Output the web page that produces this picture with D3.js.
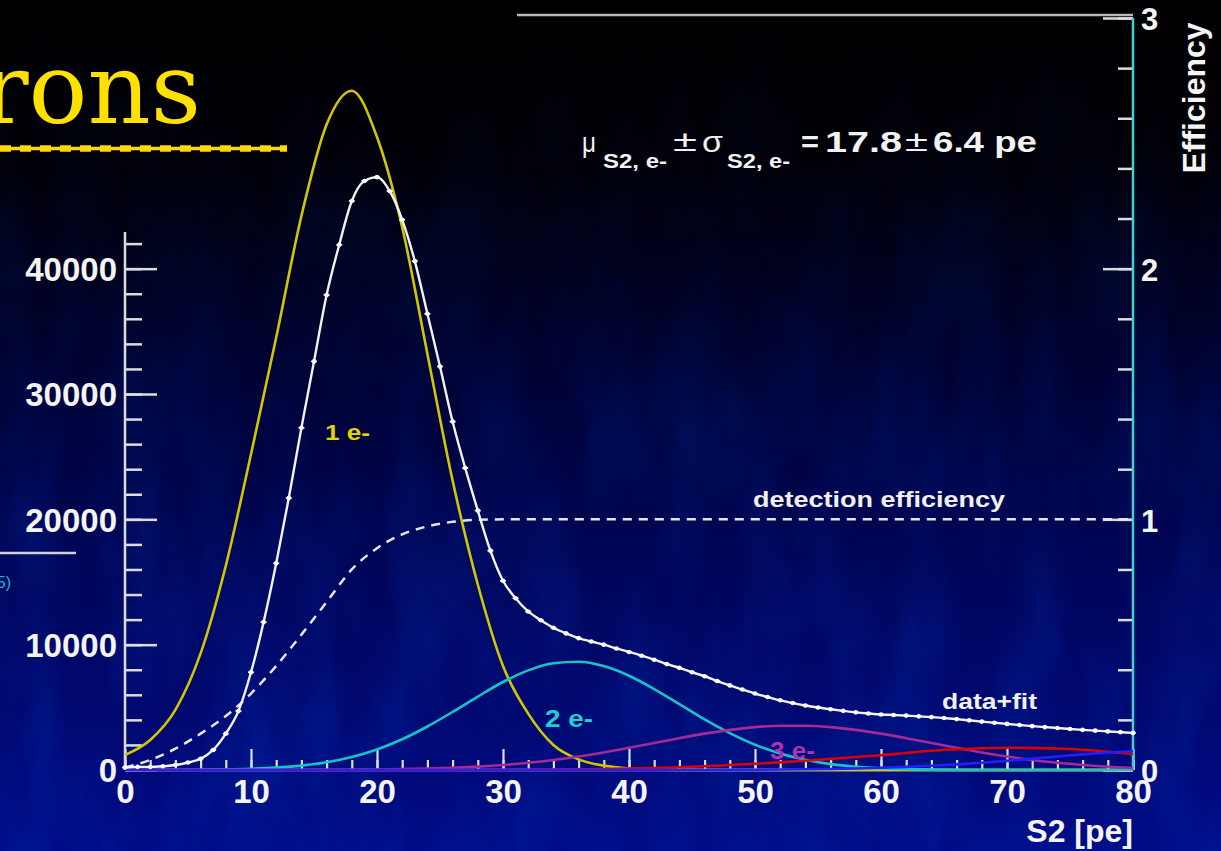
<!DOCTYPE html>
<html>
<head>
<meta charset="utf-8">
<script src="https://cdn.jsdelivr.net/npm/d3@7"></script>
<style>
  html, body { margin: 0; padding: 0; background: #000; }
  svg { display: block; }
  text { font-family: "Liberation Sans", Arial, Helvetica, sans-serif; }
</style>
</head>
<body>
<svg id="chart" width="1221" height="851"></svg>
<script>
// ---- S2 spectrum of single electrons: data, fit components and efficiency ----

// S2 bins (pe) for the histogram, one per pe
const dataPe = d3.range(0, 81, 1);
// measured counts per bin (data+fit)
const dataCounts = [
  200, 250, 250, 300, 400, 600, 900, 1600, 2900, 4700,
  7800, 11800, 16500, 21700, 27300, 32600, 37900, 41900, 45400, 47000,
  47300, 46200, 43900, 40600, 36400, 32200, 27800, 24100, 20700, 17500,
  15100, 13700, 12650, 11950, 11350, 10900, 10520, 10250, 10000, 9700,
  9420, 9120, 8800, 8450, 8150, 7800, 7480, 7100, 6750, 6420,
  6100, 5820, 5560, 5340, 5150, 4990, 4850, 4720, 4600, 4510,
  4430, 4390, 4340, 4280, 4220, 4150, 4060, 3960, 3860, 3770,
  3680, 3590, 3500, 3420, 3350, 3270, 3200, 3140, 3080, 3020, 2960
];

// fit components sampled every 2 pe
const compPe = d3.range(0, 81, 2);
const oneElectron = [
  1200, 2400, 4800, 9300, 16300, 25200, 34500, 44200, 51500, 54200,
  50500, 43300, 33200, 23100, 14800, 8300, 4500, 2000, 850, 350,
  120, 40, 10, 0, 0, 0, 0, 0, 0, 0,
  0, 0, 0, 0, 0, 0, 0, 0, 0, 0, 0
];
const twoElectrons = [
  0, 0, 10, 25, 50, 100, 190, 350, 620, 1040,
  1640, 2450, 3470, 4630, 5860, 7020, 7950, 8520, 8640, 8290,
  7520, 6460, 5250, 4030, 2940, 2020, 1320, 810, 470, 260,
  140, 70, 30, 10, 0, 0, 0, 0, 0, 0, 0
];
const threeElectrons = [
  0, 0, 0, 0, 0, 0, 0, 5, 10, 20,
  40, 67, 110, 175, 270, 400, 575, 800, 1080, 1400,
  1770, 2150, 2540, 2900, 3200, 3420, 3535, 3535, 3420, 3200,
  2900, 2540, 2150, 1770, 1400, 1080, 800, 575, 400, 260, 150
];
const fourElectrons = [
  0, 0, 0, 0, 0, 0, 0, 0, 0, 0,
  0, 0, 0, 0, 0, 15, 25, 35, 55, 80,
  115, 160, 220, 300, 400, 500, 610, 740, 890, 1040,
  1180, 1360, 1530, 1650, 1740, 1775, 1765, 1710, 1610, 1460, 1280
];
const fiveElectrons = [
  0, 0, 0, 0, 0, 0, 0, 0, 0, 0,
  0, 0, 0, 0, 0, 0, 0, 0, 0, 0,
  0, 0, 0, 0, 10, 20, 35, 55, 80, 120,
  175, 250, 340, 450, 580, 730, 900, 1080, 1250, 1400, 1520
];
// detection efficiency (right axis)
const efficiency = [
  0.01, 0.04, 0.085, 0.145, 0.215, 0.305, 0.415, 0.54, 0.67, 0.80,
  0.885, 0.94, 0.972, 0.99, 0.998, 1, 1, 1, 1, 1,
  1, 1, 1, 1, 1, 1, 1, 1, 1, 1,
  1, 1, 1, 1, 1, 1, 1, 1, 1, 1, 1
];

// axis ticks
const xMajorTicks = [0, 10, 20, 30, 40, 50, 60, 70, 80];
const yMajorTicks = [0, 10000, 20000, 30000, 40000];
const effMajorTicks = [0, 1, 2, 3];

// ---- layout ----
const svg = d3.select("#chart");
const W = 1221, H = 851;

const x = d3.scaleLinear().domain([0, 80]).range([125, 1133]);
const y = d3.scaleLinear().domain([0, 60000]).range([770, 18]);
const yEff = d3.scaleLinear().domain([0, 3]).range([770, 18]);

// ---- background: dark slide gradient with a faint streaky texture ----
const defs = svg.append("defs");
const bg = defs.append("linearGradient").attr("id", "bg")
  .attr("x1", 0).attr("y1", 0).attr("x2", 0).attr("y2", 1);
[["0", "#000000"], ["0.2", "#000008"], ["0.45", "#000235"],
 ["0.7", "#00065e"], ["1", "#000b86"]].forEach(([o, c]) =>
  bg.append("stop").attr("offset", o).attr("stop-color", c));

const tex = defs.append("filter").attr("id", "tex")
  .attr("x", 0).attr("y", 0).attr("width", 1).attr("height", 1);
tex.append("feTurbulence").attr("type", "fractalNoise")
  .attr("baseFrequency", "0.018 0.006").attr("numOctaves", 3).attr("seed", 7);
tex.append("feColorMatrix").attr("type", "matrix")
  .attr("values", "0 0 0 0 0  0 0 0 0 0.05  0 0 0 0 0.6  0 0 0 0.9 -0.3");

svg.append("rect").attr("width", W).attr("height", H).attr("fill", "url(#bg)");
const texMask = defs.append("linearGradient").attr("id", "texFade")
  .attr("x1", 0).attr("y1", 0).attr("x2", 0).attr("y2", 1);
texMask.append("stop").attr("offset", "0").attr("stop-color", "#fff").attr("stop-opacity", 0);
texMask.append("stop").attr("offset", "0.5").attr("stop-color", "#fff").attr("stop-opacity", 0.6);
texMask.append("stop").attr("offset", "1").attr("stop-color", "#fff").attr("stop-opacity", 1);
defs.append("mask").attr("id", "fadeMask")
  .append("rect").attr("width", W).attr("height", H).attr("fill", "url(#texFade)");
svg.append("rect").attr("width", W).attr("height", H)
  .attr("filter", "url(#tex)").attr("mask", "url(#fadeMask)").attr("opacity", 0.55);

// ---- slide title fragment ----
svg.append("text")
  .attr("x", 201).attr("y", 123)
  .attr("text-anchor", "end")
  .style("font-family", "'DejaVu Serif', 'Liberation Serif', serif")
  .style("font-size", "98px")
  .attr("fill", "#ffe100")
  .text("rons");
svg.append("line").attr("x1", 0).attr("x2", 287).attr("y1", 148.5).attr("y2", 148.5)
  .attr("stroke", "#ffd800").attr("stroke-width", 3.5);
svg.append("line").attr("x1", 0).attr("x2", 287).attr("y1", 148.5).attr("y2", 148.5)
  .attr("stroke", "#ffd800").attr("stroke-width", 6.5).attr("stroke-dasharray", "11 9");

// legend fragment at the left edge
svg.append("line").attr("x1", 0).attr("x2", 76).attr("y1", 553).attr("y2", 553)
  .attr("stroke", "#d0d0d0").attr("stroke-width", 2.5);
svg.append("text").attr("x", 11).attr("y", 588).attr("text-anchor", "end")
  .style("font-size", "16px").attr("fill", "#19b7c8").text("5)");

// ---- axes ----
const axisColor = "#dcdcdc";

// top frame segment
svg.append("line").attr("x1", 517).attr("x2", 1133).attr("y1", 15).attr("y2", 15)
  .attr("stroke", "#b8b8b8").attr("stroke-width", 2.5);

// left counts axis
const leftMinor = svg.append("g").attr("transform", `translate(${x(0)},0)`)
  .call(d3.axisLeft(y).tickValues(d3.range(0, 42001, 2000)).tickSize(-17).tickFormat(""));
const leftMajor = svg.append("g").attr("transform", `translate(${x(0)},0)`)
  .call(d3.axisLeft(y).tickValues(yMajorTicks).tickSize(-32).tickPadding(8)
    .tickFormat(d3.format("d")));
[leftMinor, leftMajor].forEach(g => {
  g.select(".domain").remove();
  g.selectAll(".tick line").attr("stroke", axisColor).attr("stroke-width", 2.5);
});
leftMajor.selectAll(".tick text")
  .attr("fill", "#f4f4f4").style("font-size", "33px").style("font-weight", "bold")
  .attr("dy", "0.36em");
svg.append("line").attr("x1", x(0)).attr("x2", x(0)).attr("y1", y(0)).attr("y2", 232)
  .attr("stroke", axisColor).attr("stroke-width", 2.5);

// bottom S2 axis
const botMinor = svg.append("g").attr("transform", `translate(0,${y(0)})`)
  .call(d3.axisBottom(x).tickValues(d3.range(0, 81, 2)).tickSize(-10).tickFormat(""));
const botMajor = svg.append("g").attr("transform", `translate(0,${y(0)})`)
  .call(d3.axisBottom(x).tickValues(xMajorTicks).tickSize(-21).tickPadding(10)
    .tickFormat(d3.format("d")));
[botMinor, botMajor].forEach(g => {
  g.select(".domain").remove();
  g.selectAll(".tick line").attr("stroke", axisColor).attr("stroke-width", 2.2);
});
botMajor.selectAll(".tick text")
  .attr("fill", "#f4f4f4").style("font-size", "33px").style("font-weight", "bold");
svg.append("line").attr("x1", x(0)).attr("x2", x(80)).attr("y1", y(0)).attr("y2", y(0))
  .attr("stroke", "#e8e8e8").attr("stroke-width", 2.5);

svg.append("text").attr("x", 1133).attr("y", 842).attr("text-anchor", "end")
  .attr("fill", "#f4f4f4").style("font-size", "32px").style("font-weight", "bold")
  .text("S2 [pe]");

// right efficiency axis
const rightMinor = svg.append("g").attr("transform", `translate(${x(80)},0)`)
  .call(d3.axisRight(yEff).tickValues(d3.range(0, 3.001, 0.2)).tickSize(-15).tickFormat(""));
const rightMajor = svg.append("g").attr("transform", `translate(${x(80)},0)`)
  .call(d3.axisRight(yEff).tickValues(effMajorTicks).tickSize(-30).tickPadding(8)
    .tickFormat(d3.format("d")));
[rightMinor, rightMajor].forEach(g => {
  g.select(".domain").remove();
  g.selectAll(".tick line").attr("stroke", axisColor).attr("stroke-width", 2.5);
});
rightMajor.selectAll(".tick text")
  .attr("fill", "#f4f4f4").style("font-size", "31px").style("font-weight", "bold")
  .attr("dy", "0.38em");
svg.append("line").attr("x1", x(80)).attr("x2", x(80)).attr("y1", yEff(0)).attr("y2", yEff(3))
  .attr("stroke", "#3fd0d0").attr("stroke-width", 2.5);

svg.append("text")
  .attr("transform", `translate(1205,98) rotate(-90)`)
  .attr("text-anchor", "middle")
  .attr("fill", "#f4f4f4").style("font-size", "32px").style("font-weight", "bold")
  .text("Efficiency");

// ---- curves ----
const compLine = vals => d3.line()
  .x((d, i) => x(compPe[i]))
  .y(d => y(d))
  .curve(d3.curveMonotoneX)(vals);

// detection efficiency (dashed)
svg.append("path")
  .attr("d", d3.line().x((d, i) => x(compPe[i])).y(d => yEff(d)).curve(d3.curveMonotoneX)(efficiency))
  .attr("fill", "none").attr("stroke", "#e6e6e6").attr("stroke-width", 2.5)
  .attr("stroke-dasharray", "9 7");

const components = [
  { vals: oneElectron, color: "#d2c600" },
  { vals: twoElectrons, color: "#14c4c8" },
  { vals: threeElectrons, color: "#a52a98" },
  { vals: fourElectrons, color: "#dd0000" },
  { vals: fiveElectrons, color: "#1f1fff" }
];
components.forEach(c => {
  svg.append("path").attr("d", compLine(c.vals))
    .attr("fill", "none").attr("stroke", c.color).attr("stroke-width", 2.6);
});

// data + fit
svg.append("path")
  .attr("d", d3.line().x((d, i) => x(dataPe[i])).y(d => y(d)).curve(d3.curveMonotoneX)(dataCounts))
  .attr("fill", "none").attr("stroke", "#f2f2f2").attr("stroke-width", 2.4);
const pts = svg.append("g");
pts.selectAll("line.err").data(dataCounts).join("line")
  .attr("x1", (d, i) => x(dataPe[i]) - 3).attr("x2", (d, i) => x(dataPe[i]) + 3)
  .attr("y1", d => y(d)).attr("y2", d => y(d))
  .attr("stroke", "#ffffff").attr("stroke-width", 1.6);
pts.selectAll("circle").data(dataCounts).join("circle")
  .attr("cx", (d, i) => x(dataPe[i])).attr("cy", d => y(d)).attr("r", 2.3)
  .attr("fill", "#ffffff");

// ---- labels ----
const label = (t, x0, y0, w, color, size) =>
  svg.append("text").attr("x", x0).attr("y", y0)
    .attr("textLength", w).attr("lengthAdjust", "spacingAndGlyphs")
    .attr("fill", color).style("font-size", size + "px").style("font-weight", "bold")
    .text(t);

label("1 e-", 325, 440, 45, "#e0d400", 22);
label("2 e-", 545, 727, 48, "#18d2d6", 23);
label("3 e-", 770, 759, 45, "#b032b0", 23);
label("detection efficiency", 753, 507, 252, "#f0f0f0", 22);
label("data+fit", 942, 709, 95, "#f0f0f0", 22);

// mean and width of the single electron peak
const ann = [
  { t: "\u03bc", x: 582, y: 152, w: 14, s: 28, b: false },
  { t: "S2, e-", x: 603, y: 168, w: 64, s: 21, b: true },
  { t: "\u00b1", x: 673, y: 151, w: 24, s: 30, b: false },
  { t: "\u03c3", x: 702, y: 152, w: 21, s: 30, b: false },
  { t: "S2, e-", x: 727, y: 168, w: 63, s: 21, b: true },
  { t: "=", x: 801, y: 152, w: 18, s: 30, b: true },
  { t: "17.8", x: 825, y: 152, w: 77, s: 29, b: true },
  { t: "\u00b1", x: 905, y: 151, w: 23, s: 30, b: false },
  { t: "6.4 pe", x: 933, y: 152, w: 104, s: 29, b: true }
];
ann.forEach(a => svg.append("text")
  .attr("x", a.x).attr("y", a.y)
  .attr("textLength", a.w).attr("lengthAdjust", "spacingAndGlyphs")
  .attr("fill", "#f2f2f2").style("font-size", a.s + "px")
  .style("font-weight", a.b ? "bold" : "normal")
  .text(a.t));
</script>
</body>
</html>
